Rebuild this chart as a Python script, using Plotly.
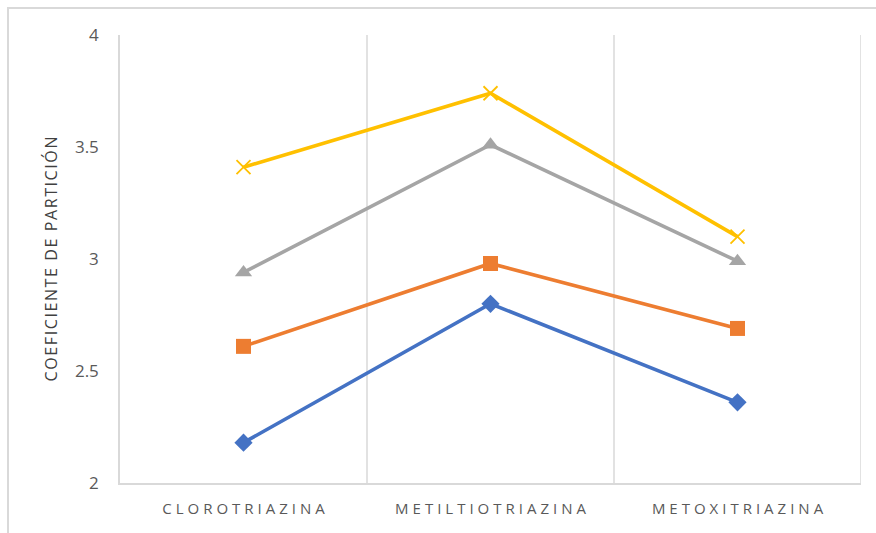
import plotly.graph_objects as go

# Triazine families on the category axis
categorias = ["CLOROTRIAZINA", "METILTIOTRIAZINA", "METOXITRIAZINA"]

# Partition coefficient for each series
serie_1 = [2.18, 2.80, 2.36]
serie_2 = [2.61, 2.98, 2.69]
serie_3 = [2.94, 3.51, 2.99]
serie_4 = [3.41, 3.74, 3.10]

y_ticks = [2, 2.5, 3, 3.5, 4]
titulo_y = "COEFICIENTE DE PARTICIÓN"

# Spread letters out to mimic wide character tracking
def espaciado(texto, sep="\u2009\u200a"):
    return sep.join(texto)

posiciones = list(range(len(categorias)))

series = [
    ("Serie 1", serie_1, "#4472C4", dict(symbol="diamond", size=14)),
    ("Serie 2", serie_2, "#ED7D31", dict(symbol="square", size=15)),
    ("Serie 3", serie_3, "#A5A5A5", dict(symbol="triangle-up", size=15)),
    ("Serie 4", serie_4, "#FFC000", dict(symbol="x-thin-open", size=14, line=dict(width=1.8, color="#FFC000"))),
]

fig = go.Figure()
for nombre, valores, color, marcador in series:
    fig.add_trace(go.Scatter(
        x=posiciones, y=valores, name=nombre, mode="lines+markers",
        line=dict(color=color, width=3.6),
        marker=dict(color=color, **marcador),
        showlegend=False,
    ))

fig.update_layout(
    width=876, height=533,
    margin=dict(l=120, r=15, t=35, b=50),
    paper_bgcolor="white", plot_bgcolor="white",
    font=dict(family="'Open Sans', sans-serif", color="#595959"),
    xaxis=dict(
        range=[-0.5, len(categorias) - 0.5],
        tickvals=posiciones, ticktext=[espaciado(c) for c in categorias],
        showgrid=False, zeroline=False,
        showline=True, linecolor="#D9D9D9", linewidth=1.5,
        ticks="outside", ticklen=11, tickcolor="rgba(0,0,0,0)",
        tickfont=dict(size=15, color="#595959"),
    ),
    yaxis=dict(
        range=[2, 4], tickvals=y_ticks, ticktext=[str(t) for t in y_ticks],
        showgrid=False, zeroline=False,
        showline=True, linecolor="#D9D9D9", linewidth=1.5,
        ticks="outside", ticklen=16, tickcolor="rgba(0,0,0,0)",
        tickfont=dict(size=17, color="#595959"),
        title=dict(text=espaciado(titulo_y, "\u200a"), font=dict(size=16, color="#404040"), standoff=13),
    ),
)

# Vertical grid lines on the boundaries between categories
for limite in [i + 0.5 for i in posiciones]:
    fig.add_shape(type="line", xref="x", yref="paper", x0=limite, x1=limite, y0=0, y1=1,
                  line=dict(color="#D9D9D9", width=1.5), layer="below")

# Outer chart border
fig.add_shape(type="rect", xref="paper", yref="paper",
              x0=(8 - 120) / 741, x1=(880 - 120) / 741,
              y0=-(545 - 483) / 448, y1=1 + (35 - 8) / 448,
              line=dict(color="#D9D9D9", width=2), layer="below")

fig.write_html("out.html")
